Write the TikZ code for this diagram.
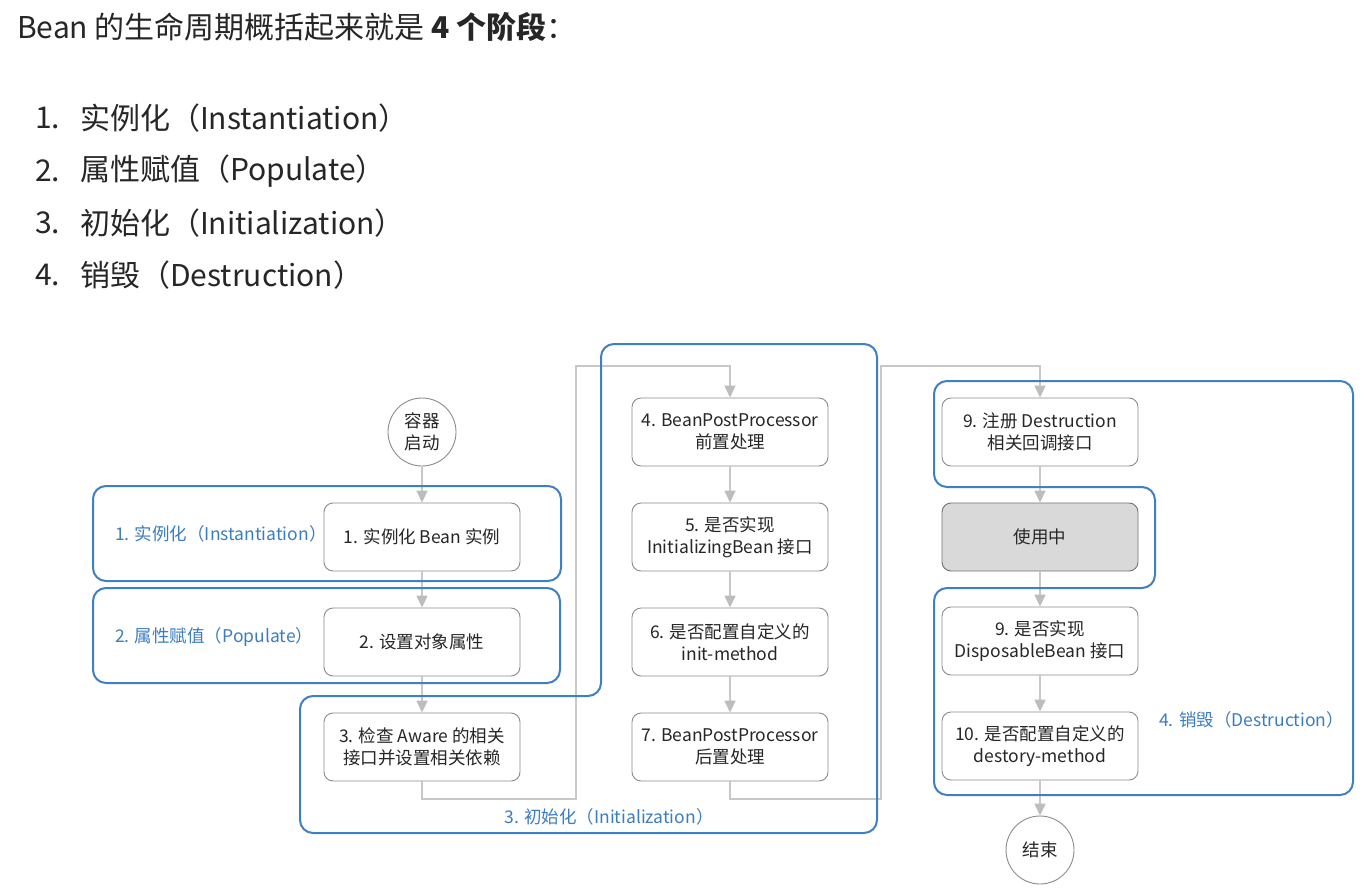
\documentclass[tikz,border=0pt]{standalone}
\usepackage{fontspec}
\setmainfont{Noto Sans CJK SC}
\usetikzlibrary{arrows.meta}
\definecolor{grpblue}{HTML}{3F80C4}
\definecolor{lblblue}{HTML}{3B7DC2}
\definecolor{boxline}{HTML}{8C8C8C}
\definecolor{connc}{HTML}{C8C8C8}
\definecolor{tipc}{HTML}{BDBDBD}
\definecolor{txtc}{HTML}{262626}
\definecolor{usefill}{HTML}{D9D9D9}
\newcommand\bxfont{\fontsize{17.5}{22}\selectfont}
\newcommand\hdfont{\fontsize{30}{35}\selectfont}
\begin{document}
\begin{tikzpicture}[x=1pt,y=-1pt,
  stepbox/.style={draw=boxline, line width=0.9pt, rounded corners=9pt, fill=white, minimum width=196pt, minimum height=68pt, inner sep=0pt, align=center, font=\bxfont, text=txtc},
  usebox/.style={stepbox, fill=usefill, draw=black!55},
  endcirc/.style={circle, draw=boxline, line width=0.9pt, minimum size=68pt, inner sep=0pt, align=center, font=\bxfont, text=txtc, fill=white},
  grp/.style={draw=grpblue, line width=2pt, rounded corners=13pt},
  grplabel/.style={font=\bxfont, text=lblblue, inner sep=0pt},
  conn/.style={draw=connc, line width=1.5pt, -{Triangle[length=12pt,width=11pt,color=tipc]}},
  hdtext/.style={font=\hdfont, text=txtc, inner sep=0pt, anchor=west}
]
\useasboundingbox (0,0) rectangle (1365,888);
\fill[white] (0,0) rectangle (1365,888);

% header and list
\node[hdtext] (title) at (17,27) {Bean 的生命周期概括起来就是 \textbf{4 个阶段}：};
\node[hdtext] (n1) at (35,118) {1.};
\node[hdtext] (l1) at (80,118) {实例化（Instantiation）};
\node[hdtext] (n2) at (35,171) {2.};
\node[hdtext] (l2) at (80,171) {属性赋值（Populate）};
\node[hdtext] (n3) at (35,223) {3.};
\node[hdtext] (l3) at (80,223) {初始化（Initialization）};
\node[hdtext] (n4) at (35,275) {4.};
\node[hdtext] (l4) at (80,275) {销毁（Destruction）};

% nodes
\node[endcirc] (start) at (422,432) {容器\\启动};
\node[stepbox] (box1) at (422,537) {1. 实例化 Bean 实例};
\node[stepbox] (box2) at (422,642) {2. 设置对象属性};
\node[stepbox] (box3) at (422,747) {3. 检查 Aware 的相关\\接口并设置相关依赖};
\node[stepbox] (box4) at (730,432) {4. BeanPostProcessor\\前置处理};
\node[stepbox] (box5) at (730,537) {5. 是否实现\\InitializingBean 接口};
\node[stepbox] (box6) at (730,642) {6. 是否配置自定义的\\init-method};
\node[stepbox] (box7) at (730,747) {7. BeanPostProcessor\\后置处理};
\node[stepbox] (box9) at (1040,432) {9. 注册 Destruction\\相关回调接口};
\node[usebox] (use) at (1040,537) {使用中};
\node[stepbox] (box9b) at (1040,641) {9. 是否实现\\DisposableBean 接口};
\node[stepbox] (box10) at (1040,746) {10. 是否配置自定义的\\destory-method};
\node[endcirc] (stop) at (1040,850) {结束};

% connectors
\coordinate (a1) at (576,799);
\coordinate (a2) at (576,366);
\coordinate (b1) at (881,799);
\coordinate (b2) at (881,366);
\draw[conn] (start) -- (box1);
\draw[conn] (box1) -- (box2);
\draw[conn] (box2) -- (box3);
\draw[conn] (box3.south) |- (a1) -- (a2) -| (box4.north);
\draw[conn] (box4) -- (box5);
\draw[conn] (box5) -- (box6);
\draw[conn] (box6) -- (box7);
\draw[conn] (box7.south) |- (b1) -- (b2) -| (box9.north);
\draw[conn] (box9) -- (use);
\draw[conn] (use) -- (box9b);
\draw[conn] (box9b) -- (box10);
\draw[conn] (box10) -- (stop);

% groups
\draw[grp] (93,486) rectangle (561,581);
\draw[grp] (93,588) rectangle (560,683);
\draw[grp] (601,344) -- (877,344) -- (877,833) -- (300,833) -- (300,696) -- (601,696) -- cycle;
\draw[grp] (934,381) -- (1353,381) -- (1353,795) -- (934,795) -- (934,588) -- (1155,588) -- (1155,487) -- (934,487) -- cycle;

% group labels
\node[grplabel, anchor=west] (g1) at (115,534) {1. 实例化（Instantiation）};
\node[grplabel, anchor=west] (g2) at (115,637) {2. 属性赋值（Populate）};
\node[grplabel] (g3) at (609,817) {3. 初始化（Initialization）};
\node[grplabel, anchor=west] (g4) at (1159,720) {4. 销毁（Destruction）};
\end{tikzpicture}
\end{document}
